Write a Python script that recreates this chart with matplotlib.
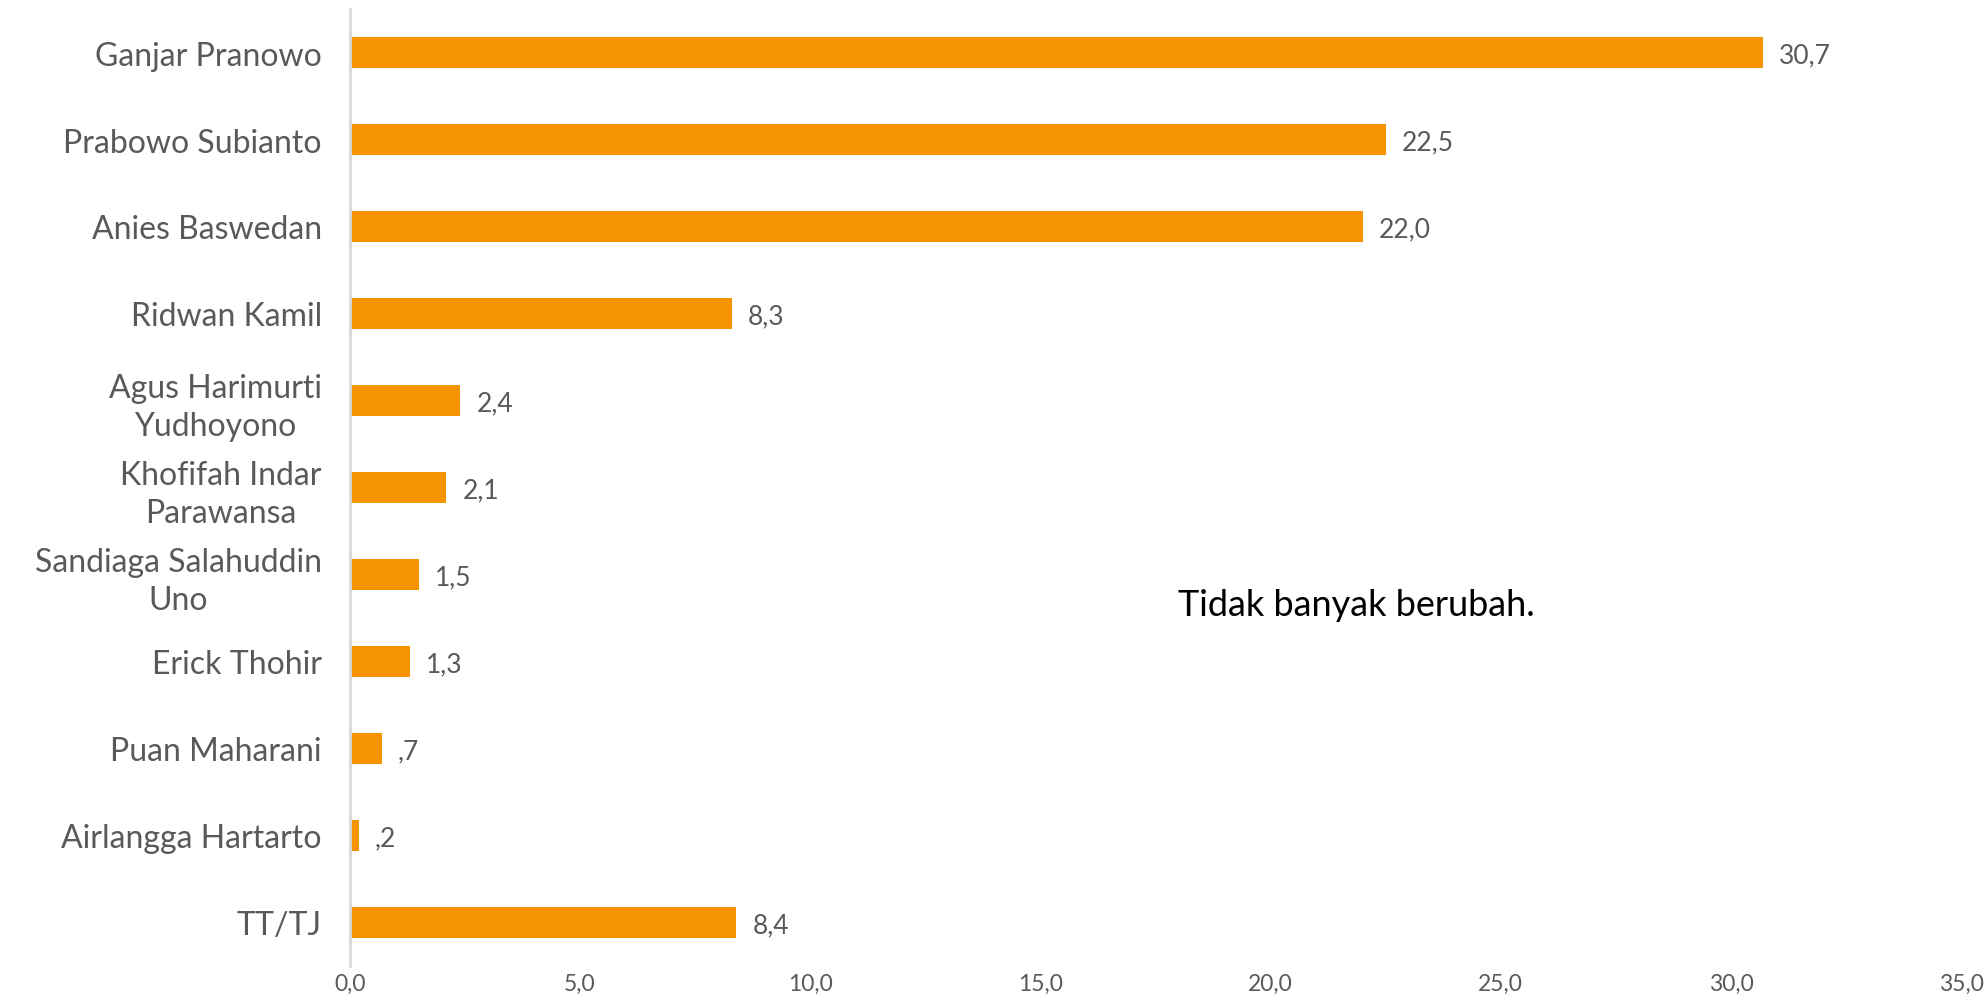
import matplotlib.pyplot as plt
import numpy as np

plt.rcParams['font.family'] = ['Lato', 'DejaVu Sans']

names = ["Ganjar Pranowo", "Prabowo Subianto", "Anies Baswedan", "Ridwan Kamil",
         "Agus Harimurti\nYudhoyono", "Khofifah Indar\nParawansa",
         "Sandiaga Salahuddin\nUno", "Erick Thohir", "Puan Maharani",
         "Airlangga Hartarto", "TT/TJ"]
values = [30.7, 22.5, 22.0, 8.3, 2.4, 2.1, 1.5, 1.3, 0.7, 0.2, 8.4]
xticks = [0, 5, 10, 15, 20, 25, 30, 35]

orange = '#F59300'
grey = '#595959'


def fmt(v):
    s = f"{v:.1f}".replace('.', ',')
    if s.startswith('0,') and v != 0:
        s = s[1:]
    return s


fig = plt.figure(figsize=(19.87, 10.04), dpi=100)
ax = fig.add_axes([0.176, 0.037, 0.811, 0.953])

y = np.arange(len(names))
ax.barh(y, values, height=0.35, color=orange)
for yi, v in zip(y, values):
    ax.text(v + 0.35, yi + 0.03, fmt(v), va='center', ha='left',
            fontsize=19, color=grey)

ax.set_ylim(len(names) - 0.5, -0.5)
ax.set_xlim(0, 35)
ax.set_yticks(y)
ax.set_yticklabels(names, fontsize=23, color=grey, multialignment='center',
                   linespacing=1.3)
ax.set_xticks(xticks)
ax.set_xticklabels([fmt(t) for t in xticks], fontsize=16.5, color=grey)
ax.tick_params(axis='both', length=0)
ax.tick_params(axis='y', pad=20)
ax.tick_params(axis='x', pad=5)

for s in ['top', 'right', 'bottom']:
    ax.spines[s].set_visible(False)
ax.spines['left'].set_color('#D9D9D9')
ax.spines['left'].set_linewidth(2)

ax.text(18.0, 6.35, "Tidak banyak berubah.", fontsize=26, color='black',
        va='center', ha='left')

fig.savefig('out.png', dpi=100)
